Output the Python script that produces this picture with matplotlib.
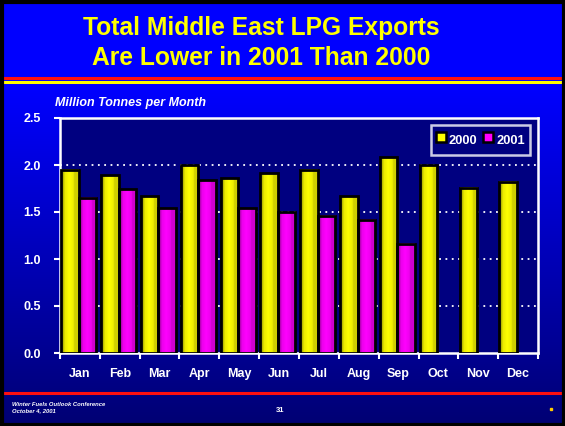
import matplotlib
matplotlib.use("Agg")
import matplotlib.pyplot as plt
import numpy as np
from matplotlib.patches import Rectangle
from matplotlib.lines import Line2D

plt.rcParams['font.family'] = ['Liberation Sans', 'DejaVu Sans']

# ------------------------------------------------
# Data
# ------------------------------------------------
months = ['Jan', 'Feb', 'Mar', 'Apr', 'May', 'Jun',
          'Jul', 'Aug', 'Sep', 'Oct', 'Nov', 'Dec']
exports_2000 = [1.95, 1.89, 1.67, 2.00, 1.86, 1.91,
                1.95, 1.67, 2.08, 2.00, 1.76, 1.82]
exports_2001 = [1.65, 1.74, 1.54, 1.84, 1.54, 1.50,
                1.46, 1.42, 1.16]
yticks = [0.0, 0.5, 1.0, 1.5, 2.0, 2.5]

W, H = 565, 426
fig = plt.figure(figsize=(W / 100, H / 100), dpi=100)

# ------------------------------------------------
# Slide background: blue gradient, frame, rules
# ------------------------------------------------
bg = fig.add_axes([0, 0, 1, 1])
bg.set_xlim(0, W)
bg.set_ylim(H, 0)
bg.axis('off')
rows = np.linspace(0, 1, 200)
blue = np.clip(np.where(rows < 0.2, 1.0, 1.0 - (rows - 0.2) / 0.8 * 0.55), 0, 1)
grad = np.zeros((200, 1, 3))
grad[:, 0, 2] = blue
bg.imshow(grad, extent=[0, W, H, 0], aspect='auto', zorder=0)
bg.add_patch(Rectangle((1.5, 1.5), W - 3, H - 3, fill=False, edgecolor='black', lw=3, zorder=3))
bg.plot([3, W - 3], [77.7, 77.7], color='#ff1010', lw=2.2, zorder=2)
bg.plot([3, W - 3], [82, 82], color='#ffff00', lw=2.2, zorder=2)
bg.plot([3, W - 3], [392.7, 392.7], color='#ff1010', lw=2.2, zorder=2)

bg.text(261, 28, 'Total Middle East LPG Exports', color='#ffff00', fontsize=17.7,
        fontweight='bold', ha='center', va='center')
bg.text(261, 58, 'Are Lower in 2001 Than 2000', color='#ffff00', fontsize=17.7,
        fontweight='bold', ha='center', va='center')
bg.text(55, 103, 'Million Tonnes per Month', color='white', fontsize=9,
        fontweight='bold', style='italic', ha='left', va='center')
bg.text(12, 405, 'Winter Fuels Outlook Conference', color='white', fontsize=4.2,
        fontweight='bold', style='italic', ha='left', va='center')
bg.text(12, 411, 'October 4, 2001', color='white', fontsize=4.2,
        fontweight='bold', style='italic', ha='left', va='center')
bg.text(280, 410, '31', color='white', fontsize=5.5, fontweight='bold', ha='center', va='center')
bg.plot([551], [409], 's', color='#ffcc00', ms=2, zorder=2)

# ------------------------------------------------
# Bar chart
# ------------------------------------------------
ax = fig.add_axes([60 / W, 1 - 353 / H, 478 / W, 235 / H])
ax.set_facecolor('#000080')

width = 0.44
x = np.arange(len(months))


def shaded_bar(xc, h, light, dark):
    # cylinder-like horizontal shading inside each bar
    t = np.linspace(0, 1, 40)
    prof = np.interp(t, [0, 0.15, 0.2, 0.45, 0.7, 0.75, 1.0], [0.2, 0.2, 0.75, 1.0, 0.8, 0.45, 0.45])
    light = np.array(matplotlib.colors.to_rgb(light))
    dark = np.array(matplotlib.colors.to_rgb(dark))
    img = dark[None, :] + prof[:, None] * (light - dark)[None, :]
    ax.imshow(img[None, :, :], extent=[xc - width / 2, xc + width / 2, 0, h],
              aspect='auto', zorder=2, interpolation='bilinear')
    ax.add_patch(Rectangle((xc - width / 2, 0), width, h, fill=False,
                           edgecolor='black', lw=2, zorder=3))


for i, v in enumerate(exports_2000):
    shaded_bar(x[i] - 0.25, v, '#ffff00', '#a8a800')
for i, v in enumerate(exports_2001):
    shaded_bar(x[i] + 0.19, v, '#ff00ff', '#a800a8')

ax.set_xlim(-0.5, 11.5)
ax.set_ylim(0, 2.5)

for yv in yticks[1:-1]:
    ax.axhline(yv, color='white', lw=1.3, ls=(0, (1, 2.5)), zorder=1)

for s in ax.spines.values():
    s.set_color('white')
    s.set_linewidth(1.8)

ax.set_yticks(yticks)
ax.set_yticklabels(['%.1f' % v for v in yticks])
ax.set_xticks(x)
ax.set_xticklabels(months)
ax.set_xticks(np.arange(-0.5, 12, 1), minor=True)
ax.tick_params(axis='x', which='major', length=0, pad=11, colors='white', labelsize=9)
ax.tick_params(axis='x', which='minor', length=4, width=1.5, color='white', direction='out')
ax.tick_params(axis='y', length=4, width=1.5, color='white', labelcolor='white',
               labelsize=9, pad=10, direction='out')
for lab in ax.get_xticklabels() + ax.get_yticklabels():
    lab.set_fontweight('bold')

handles = [Line2D([], [], ls='none', marker='s', ms=7.5, mfc='#ffff00', mec='black', mew=1.8),
           Line2D([], [], ls='none', marker='s', ms=7.5, mfc='#ff00ff', mec='black', mew=1.8)]
leg = ax.legend(handles, ['2000', '2001'], loc='upper right', bbox_to_anchor=(0.983, 0.97),
                borderaxespad=0, ncol=2, frameon=True, fancybox=False,
                facecolor='#000080', edgecolor='white',
                handlelength=0.8, handleheight=2.0, handletextpad=0.2, columnspacing=0.45,
                borderpad=0.4, prop={'weight': 'bold', 'size': 9.3})
leg.get_frame().set_linewidth(1.8)
for t in leg.get_texts():
    t.set_color('white')

fig.savefig('out.png', dpi=100)
